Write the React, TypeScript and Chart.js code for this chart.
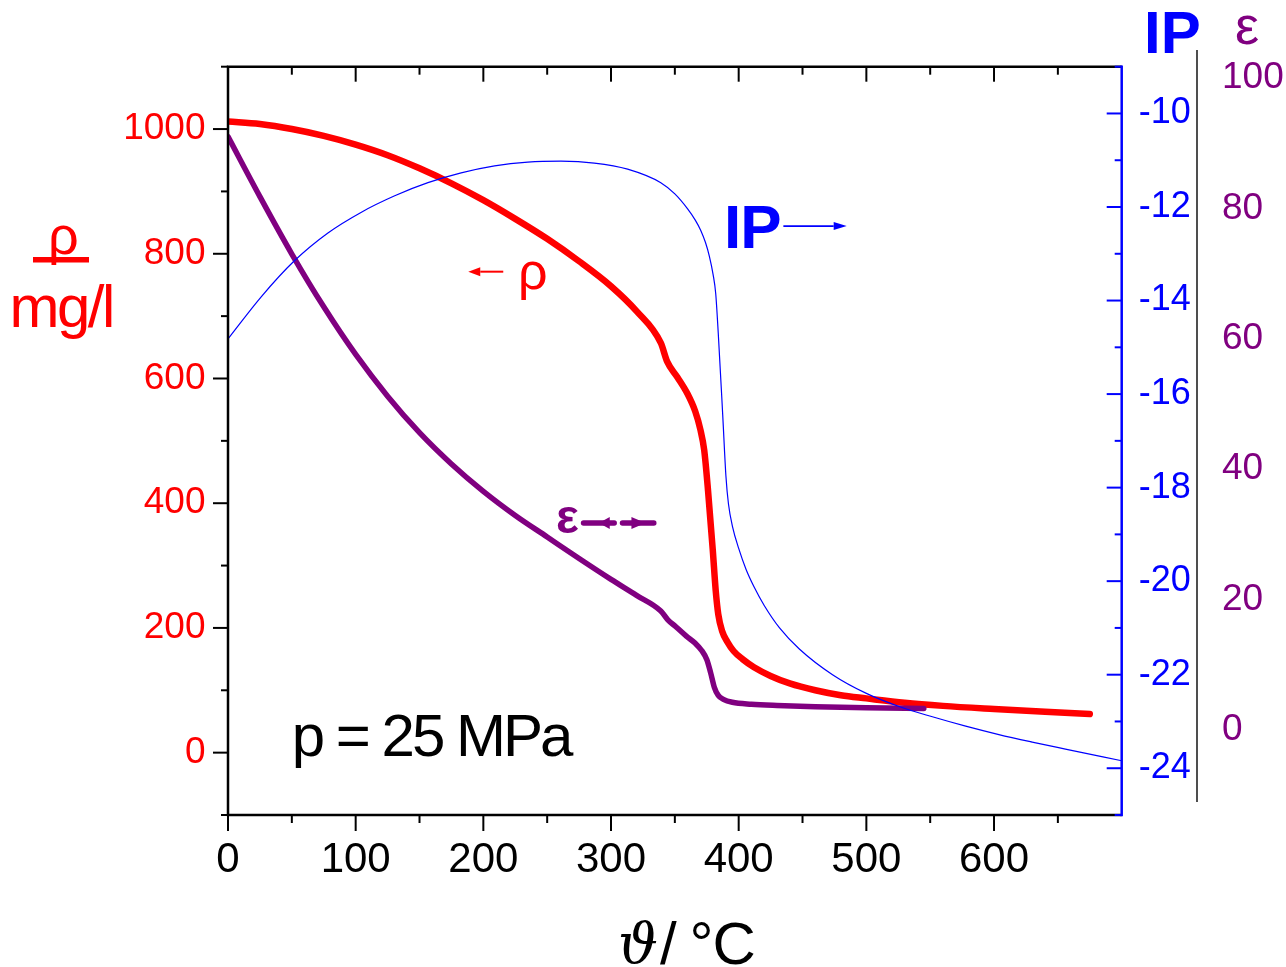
import React, { useEffect, useRef } from 'react';
import { Chart, registerables } from 'chart.js';

Chart.register(...registerables);

// ---- data ----
const T_RHO = [0, 25, 50, 75, 100, 125, 150, 175, 200, 225, 250, 275, 300, 320, 339, 344, 352, 360, 366, 370, 373, 376, 379.7, 382, 384, 387, 391, 396, 403, 412, 425, 440, 460, 480, 500, 530, 560, 600, 640, 675];
const RHO = [1012, 1008, 1000, 989, 975, 958, 937, 913, 886, 856, 824, 788, 748, 708, 657, 627, 602, 575, 547, 518, 485, 420, 325, 260, 222, 195, 178, 163, 150, 137, 123, 111, 100, 92, 87, 80, 75, 70, 65.5, 62];

const T_EPS = [0, 25, 50, 75, 100, 125, 150, 175, 200, 225, 250, 275, 300, 320, 339, 344.5, 351, 359, 366, 371, 375, 378, 381, 384, 388, 395, 410, 430, 460, 500, 545];
const EPS = [91.0, 81.8, 73.0, 64.9, 57.6, 51.2, 45.6, 40.8, 36.6, 32.9, 29.6, 26.3, 23.1, 20.65, 18.25, 16.9, 15.8, 14.4, 13.3, 12.2, 10.8, 8.8, 6.5, 5.3, 4.7, 4.25, 3.95, 3.75, 3.55, 3.4, 3.3];

const T_IP = [0, 26, 52, 78, 104.5, 130.6, 156.6, 182.6, 208.8, 234.8, 260.8, 286.9, 313, 339, 350, 360, 366, 370.3, 374, 377, 380, 382, 384, 387.5, 390, 392, 395.3, 400, 405.8, 412, 420, 432, 447.5, 473.5, 500, 525.6, 551.7, 577.8, 603.8, 629.9, 655.9, 700];
const IP = [-14.82, -13.92, -13.15, -12.56, -12.11, -11.76, -11.48, -11.27, -11.12, -11.04, -11.02, -11.06, -11.19, -11.48, -11.72, -12.04, -12.28, -12.5, -12.76, -13.05, -13.45, -13.85, -14.7, -16.45, -17.75, -18.35, -18.85, -19.3, -19.75, -20.12, -20.52, -21.0, -21.45, -22.0, -22.4, -22.68, -22.9, -23.1, -23.28, -23.44, -23.59, -23.84];

const X_TICKS = [0, 100, 200, 300, 400, 500, 600];
const RHO_TICKS = [0, 200, 400, 600, 800, 1000];
const IP_TICKS = [-24, -22, -20, -18, -16, -14, -12, -10];
const EPS_TICKS = [0, 20, 40, 60, 80, 100];

const SANS = "'Liberation Sans', Arial, sans-serif";
const RED = '#ff0000';
const BLUE = '#0000ff';
const PURPLE = '#800080';

function arrow(ctx: CanvasRenderingContext2D, x1: number, y1: number, x2: number, y2: number, color: string, lw: number, headLen: number, headHalf: number) {
  ctx.strokeStyle = color;
  ctx.fillStyle = color;
  ctx.lineWidth = lw;
  const ang = Math.atan2(y2 - y1, x2 - x1);
  const bx = x2 - headLen * Math.cos(ang);
  const by = y2 - headLen * Math.sin(ang);
  ctx.beginPath();
  ctx.moveTo(x1, y1);
  ctx.lineTo(bx, by);
  ctx.stroke();
  ctx.beginPath();
  ctx.moveTo(x2, y2);
  ctx.lineTo(bx - headHalf * Math.sin(ang), by + headHalf * Math.cos(ang));
  ctx.lineTo(bx + headHalf * Math.sin(ang), by - headHalf * Math.cos(ang));
  ctx.closePath();
  ctx.fill();
}

function text(ctx: CanvasRenderingContext2D, s: string, x: number, y: number, font: string, color: string, ls = '0px') {
  ctx.font = font;
  ctx.fillStyle = color;
  ctx.textAlign = 'left';
  ctx.textBaseline = 'alphabetic';
  (ctx as any).letterSpacing = ls;
  ctx.fillText(s, x, y);
  (ctx as any).letterSpacing = '0px';
}

const overlay = {
  id: 'overlay',
  afterDatasetsDraw(chart: any) {
    const ctx: CanvasRenderingContext2D = chart.ctx;
    const { left, right, top, bottom } = chart.chartArea;
    const xs = chart.scales.x;
    const ys = chart.scales.y;
    const ips = chart.scales.ip;
    const X = (v: number) => xs.getPixelForValue(v);
    const Y = (v: number) => ys.getPixelForValue(v);
    const seg = (x1: number, y1: number, x2: number, y2: number) => {
      ctx.beginPath();
      ctx.moveTo(x1, y1);
      ctx.lineTo(x2, y2);
      ctx.stroke();
    };
    ctx.save();
    ctx.lineCap = 'butt';

    // black frame (left, top, bottom)
    ctx.strokeStyle = '#000';
    ctx.lineWidth = 2.5;
    ctx.beginPath();
    ctx.moveTo(right, top);
    ctx.lineTo(left, top);
    ctx.lineTo(left, bottom);
    ctx.lineTo(right, bottom);
    ctx.stroke();

    ctx.lineWidth = 2;
    for (let v = -100; v <= 1100; v += 100) {
      const p = Y(v);
      const major = v % 200 === 0;
      seg(left, p, left - (major ? 15 : 7), p);
    }
    for (let v = 0; v < 700; v += 50) {
      const p = X(v);
      const major = v % 100 === 0;
      seg(p, bottom, p, bottom + (major ? 16 : 8));
      seg(p, top, p, top + (major ? 15 : 8));
    }

    // IP axis (blue)
    ctx.strokeStyle = BLUE;
    ctx.lineWidth = 2.5;
    seg(right, top - 1.2, right, bottom + 1.2);
    ctx.lineWidth = 2;
    for (let v = -25; v <= -9; v++) {
      const p = ips.getPixelForValue(v);
      const major = v % 2 === 0;
      seg(right, p, right - (major ? 15 : 7), p);
    }

    // epsilon axis line
    const epsLeft = chart.scales.eps.left;
    ctx.strokeStyle = '#222';
    ctx.lineWidth = 1.6;
    seg(epsLeft, 50, epsLeft, 802);

    // ---- annotations inside the plot ----
    // "<- rho"
    arrow(ctx, X(215.6), Y(771.3), X(188.2), Y(771.3), RED, 2, 12, 4.5);
    text(ctx, 'ρ', X(227.1), Y(743.5), `52px ${SANS}`, RED);

    // "IP ->"
    text(ctx, 'IP', X(388.5), Y(808.8), `bold 62px ${SANS}`, BLUE, '-1px');
    arrow(ctx, X(435), Y(844.5), X(484.6), Y(844.5), BLUE, 1.8, 13, 4);

    // "eps <- ->"
    text(ctx, 'ε', X(256.9), Y(351.7), `bold 48px ${SANS}`, PURPLE);
    const ya = Y(368.3);
    ctx.strokeStyle = PURPLE;
    ctx.fillStyle = PURPLE;
    ctx.lineWidth = 5.5;
    ctx.lineCap = 'round';
    seg(X(278.5), ya, X(302.5), ya);
    seg(X(309), ya, X(333.5), ya);
    ctx.lineCap = 'butt';
    ctx.beginPath();
    ctx.moveTo(X(290.5), ya);
    ctx.lineTo(X(299), ya - 6);
    ctx.lineTo(X(299), ya + 6);
    ctx.closePath();
    ctx.fill();
    ctx.beginPath();
    ctx.moveTo(X(327), ya);
    ctx.lineTo(X(316), ya - 6);
    ctx.lineTo(X(316), ya + 6);
    ctx.closePath();
    ctx.fill();

    // "p = 25 MPa"
    text(ctx, 'p = 25 MPa', X(50), Y(-5.4), `60px ${SANS}`, '#000', '-3px');

    // ---- titles outside the plot ----
    // left: rho over mg/l
    text(ctx, 'ρ', 48, 254, `54px ${SANS}`, RED);
    ctx.fillStyle = RED;
    ctx.fillRect(33, 257, 56, 5.5);
    text(ctx, 'mg/l', 9.5, 326.5, `60px ${SANS}`, RED, '-2.5px');

    // right headers
    text(ctx, 'IP', 1144, 53, `bold 60px ${SANS}`, BLUE);
    text(ctx, 'ε', 1235, 43.5, `54px ${SANS}`, PURPLE);

    // x title
    text(ctx, 'ϑ', 618, 963, `italic 56px 'DejaVu Serif', serif`, '#000');
    text(ctx, '/', 660, 964, `60px ${SANS}`, '#000');
    text(ctx, '°C', 689.5, 964, `60px ${SANS}`, '#000', '-1px');

    ctx.restore();
  },
};

export default function App() {
  const ref = useRef<HTMLCanvasElement>(null);

  useEffect(() => {
    const canvas = ref.current;
    if (!canvas) return;
    const pts = (xs: number[], ys: number[]) => xs.map((x, i) => ({ x, y: ys[i] }));
    const tickFont = (size: number) => ({ family: SANS, size, weight: 'normal' as const });

    const chart = new Chart(canvas, {
      type: 'line',
      data: {
        datasets: [
          {
            label: 'IP',
            data: pts(T_IP, IP),
            yAxisID: 'ip',
            borderColor: BLUE,
            borderWidth: 1.2,
            pointRadius: 0,
            fill: false,
            cubicInterpolationMode: 'monotone',
          },
          {
            label: 'ε',
            data: pts(T_EPS, EPS),
            yAxisID: 'eps',
            borderColor: PURPLE,
            borderWidth: 5.5,
            borderCapStyle: 'round',
            borderJoinStyle: 'round',
            pointRadius: 0,
            fill: false,
            cubicInterpolationMode: 'monotone',
          },
          {
            label: 'ρ',
            data: pts(T_RHO, RHO),
            yAxisID: 'y',
            borderColor: RED,
            borderWidth: 6.5,
            borderCapStyle: 'round',
            borderJoinStyle: 'round',
            pointRadius: 0,
            fill: false,
            cubicInterpolationMode: 'monotone',
          },
        ],
      },
      options: {
        animation: false,
        responsive: false,
        devicePixelRatio: 1,
        events: [],
        layout: { padding: { top: 66.7, left: 0, right: 0, bottom: 0 } },
        plugins: {
          legend: { display: false },
          tooltip: { enabled: false },
          title: { display: false },
        },
        scales: {
          x: {
            type: 'linear',
            position: 'bottom',
            min: 0,
            max: 700,
            afterBuildTicks: (s: any) => { s.ticks = X_TICKS.map((value) => ({ value })); },
            afterFit: (s: any) => { s.height = 152; },
            grid: { display: false, drawTicks: false },
            border: { display: false },
            ticks: { color: '#000', font: tickFont(42), padding: 20, maxRotation: 0, autoSkip: false, callback: (v: any) => String(v) },
          },
          y: {
            type: 'linear',
            position: 'left',
            min: -100,
            max: 1100,
            afterBuildTicks: (s: any) => { s.ticks = RHO_TICKS.map((value) => ({ value })); },
            afterFit: (s: any) => { s.width = 228; },
            grid: { display: false, drawTicks: false },
            border: { display: false },
            ticks: { color: RED, font: tickFont(37), padding: 22.5, autoSkip: false, callback: (v: any) => String(v) },
          },
          ip: {
            type: 'linear',
            position: 'right',
            weight: 0,
            min: -25,
            max: -9,
            afterBuildTicks: (s: any) => { s.ticks = IP_TICKS.map((value) => ({ value })); },
            afterFit: (s: any) => { s.width = 75.3; },
            grid: { display: false, drawTicks: false },
            border: { display: false },
            ticks: { color: BLUE, font: tickFont(36), padding: 17, autoSkip: false, callback: (v: any) => String(v) },
          },
          eps: {
            type: 'linear',
            position: 'right',
            weight: 1,
            min: -13.04,
            max: 101.73,
            afterBuildTicks: (s: any) => { s.ticks = EPS_TICKS.map((value) => ({ value })); },
            afterFit: (s: any) => { s.width = 89; },
            grid: { display: false, drawTicks: false },
            border: { display: false },
            ticks: { color: PURPLE, font: tickFont(37), padding: 25, autoSkip: false, callback: (v: any) => String(v) },
          },
        },
      } as any,
      plugins: [overlay],
    });
    return () => chart.destroy();
  }, []);

  return (
    <div style={{ position: 'fixed', left: 0, top: 0, width: 1286, height: 967, background: '#fff' }}>
      <canvas ref={ref} width={1286} height={967} style={{ display: 'block', width: 1286, height: 967 }} />
    </div>
  );
}
